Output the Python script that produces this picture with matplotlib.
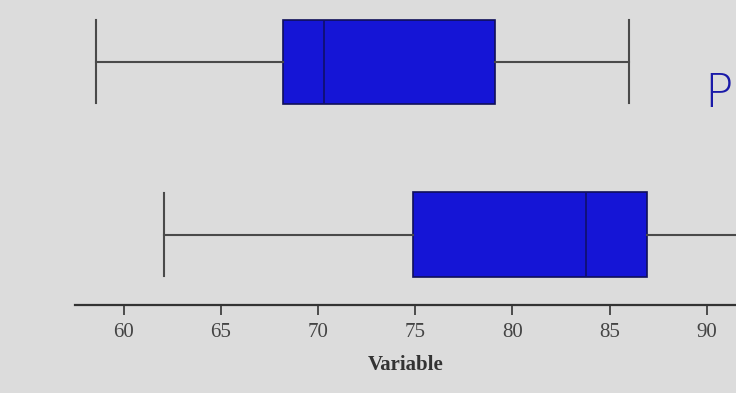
import matplotlib
matplotlib.use("Agg")
import matplotlib.pyplot as plt

# five-number summaries (bottom box first, top box second)
positions = [1, 2]
whislo = [62.1, 58.6]
q1 = [74.9, 68.2]
med = [83.8, 70.3]
q3 = [86.9, 79.1]
whishi = [93.5, 86.0]
xticks = [60, 65, 70, 75, 80, 85, 90]

BG = "#dcdcdc"
BOX = "#1515d6"
LINE = "#4a4a4a"

stats = [dict(whislo=a, q1=b, med=c, q3=d, whishi=e, fliers=[])
         for a, b, c, d, e in zip(whislo, q1, med, q3, whishi)]

fig = plt.figure(figsize=(7.36, 3.93), dpi=100, facecolor=BG)
ax = fig.add_axes((0.102, 0.224, 0.898, 0.776), facecolor=BG)

ax.bxp(stats, positions=positions, vert=False, widths=0.49, capwidths=0.48,
       patch_artist=True, showfliers=False,
       boxprops=dict(facecolor=BOX, edgecolor="#10105a", lw=1.2),
       medianprops=dict(color="#10106a", lw=1.2),
       whiskerprops=dict(color=LINE, lw=1.5),
       capprops=dict(color=LINE, lw=1.5))

ax.set_xlim(57.5, 91.5)
ax.set_ylim(0.594, 2.358)
ax.set_xticks(xticks)
ax.set_yticks([])
for s in ("top", "right", "left"):
    ax.spines[s].set_visible(False)
ax.spines["bottom"].set_color("#333333")
ax.spines["bottom"].set_linewidth(1.6)
ax.tick_params(axis="x", colors="#333333", length=7, width=1.2, labelsize=15,
               labelcolor="#444444", pad=6)
for lab in ax.get_xticklabels():
    lab.set_family("Liberation Serif")
ax.set_xlabel("Variable", family="Liberation Serif", fontweight="bold",
              fontsize=15, color="#333333", labelpad=9)

# handwritten mark at the right edge of the photo
fig.text(0.996, 0.76, "P", color="#1a1aa8", fontsize=34, family="DejaVu Sans",
         fontweight="light", ha="right", va="center")

fig.savefig("out.png", dpi=100, facecolor=BG)
